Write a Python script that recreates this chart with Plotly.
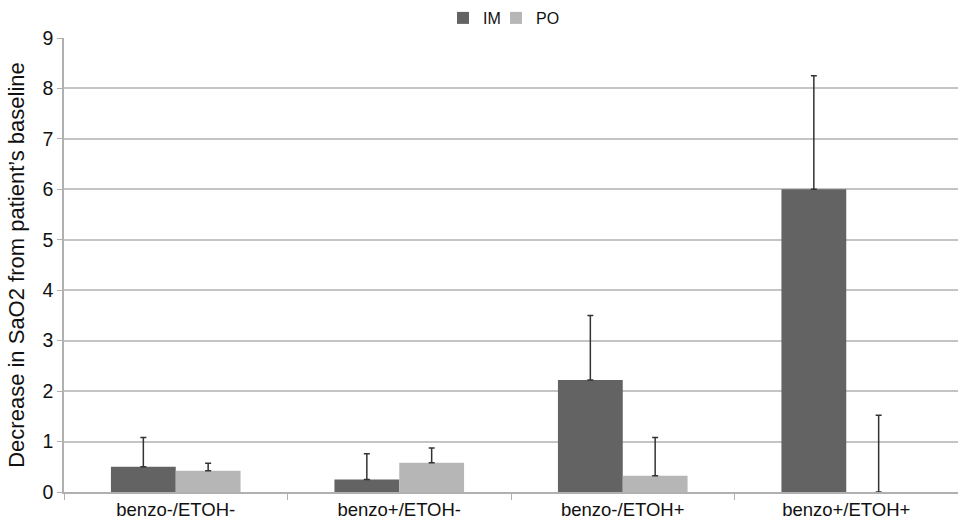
import plotly.graph_objects as go

categories = ["benzo-/ETOH-", "benzo+/ETOH-", "benzo-/ETOH+", "benzo+/ETOH+"]
im_values = [0.5, 0.25, 2.22, 6.0]
im_err = [0.58, 0.51, 1.28, 2.25]
po_values = [0.42, 0.58, 0.32, 0.0]
po_err = [0.15, 0.29, 0.76, 1.52]
y_ticks = [0, 1, 2, 3, 4, 5, 6, 7, 8, 9]

fig = go.Figure()
fig.add_trace(go.Bar(
    name="IM", x=categories, y=im_values, legend="legend",
    marker=dict(color="#636363", line=dict(width=0)),
    error_y=dict(type="data", symmetric=False, array=im_err, arrayminus=[0]*4,
                 color="#333333", thickness=1.5, width=3),
))
fig.add_trace(go.Bar(
    name="PO", x=categories, y=po_values, legend="legend2",
    marker=dict(color="#b6b6b6", line=dict(width=0)),
    error_y=dict(type="data", symmetric=False, array=po_err, arrayminus=[0]*4,
                 color="#333333", thickness=1.5, width=3),
))

leg_common = dict(orientation="h", xanchor="left", yref="container",
                  y=1 - 18/524, yanchor="middle", font=dict(size=16),
                  bgcolor="rgba(0,0,0,0)")
plot_l, plot_w = 64, 894

fig.update_layout(
    width=958, height=524,
    margin=dict(l=64, r=0, t=38, b=32, autoexpand=False),
    paper_bgcolor="white", plot_bgcolor="white",
    barmode="group", bargap=0.42, bargroupgap=0,
    font=dict(family="Liberation Sans, Arial, sans-serif", color="#111111", size=15),
    legend=dict(x=(443 - plot_l) / plot_w, **leg_common),
    legend2=dict(x=(496 - plot_l) / plot_w, **leg_common),
    showlegend=True,
)
fig.update_xaxes(
    automargin=False,
    showline=True, linecolor="#b0b0b0", linewidth=1.5,
    ticks="outside", tickson="boundaries", ticklen=6, tickcolor="#b0b0b0",
    tickfont=dict(size=18.5), showgrid=False,
)
fig.update_yaxes(
    automargin=False,
    range=[0, 9], tickvals=y_ticks, ticktext=[str(v) for v in y_ticks],
    showline=True, linecolor="#b0b0b0", linewidth=1.5,
    ticks="outside", ticklen=5, tickcolor="#b0b0b0",
    showgrid=True, gridcolor="#c4c4c4", gridwidth=1.5,
    zeroline=False, tickfont=dict(size=19.5),
    title=dict(text="Decrease in SaO2 from patient’s baseline", font=dict(size=22), standoff=12),
)

fig.write_html("out.html", config={"displayModeBar": False},
               post_script="document.body.style.margin='0';document.body.style.overflow='hidden';")
